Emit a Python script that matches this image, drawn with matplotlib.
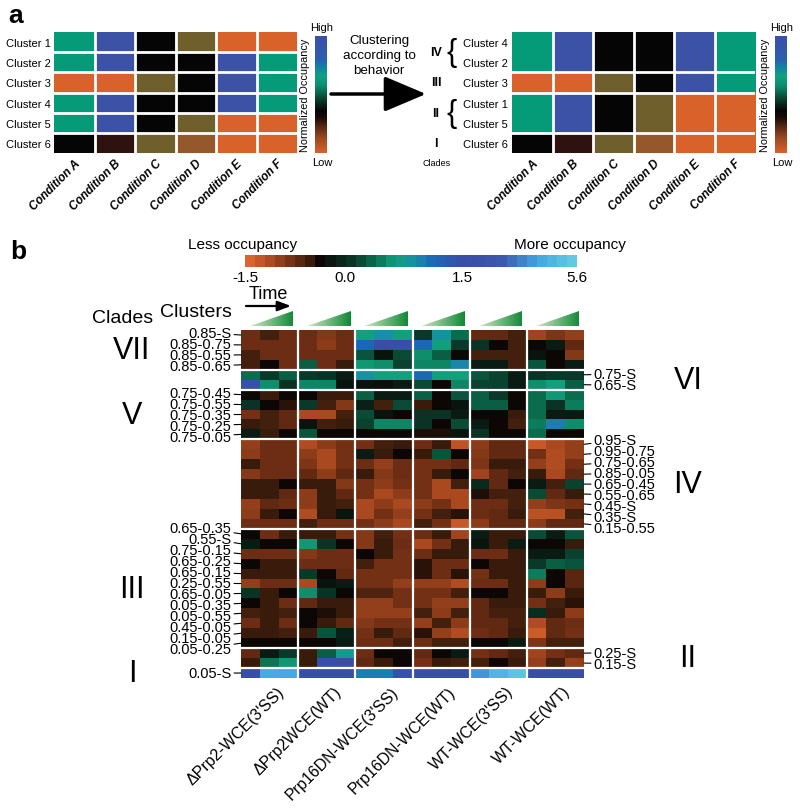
import numpy as np
import matplotlib
matplotlib.use('Agg')
import matplotlib.pyplot as plt
import matplotlib.colors as mcolors
import matplotlib.transforms as mtransforms
from matplotlib.patches import Polygon

plt.rcParams['font.family'] = ['Liberation Sans', 'DejaVu Sans']

# ---------------- panel a data ----------------
conditions_a = ['Condition A', 'Condition B', 'Condition C',
                'Condition D', 'Condition E', 'Condition F']
clusters_a = ['Cluster 1', 'Cluster 2', 'Cluster 3',
              'Cluster 4', 'Cluster 5', 'Cluster 6']
# level index per cell -> level_colors_a
levels_a = [[5, 6, 4, 2, 0, 0],
            [5, 6, 4, 4, 6, 5],
            [0, 0, 2, 4, 6, 5],
            [5, 6, 4, 4, 6, 5],
            [5, 6, 4, 2, 0, 0],
            [4, 3, 2, 1, 0, 0]]
level_colors_a = ['#d8622a', '#94582a', '#6e5f2c', '#2e1210',
                  '#050505', '#069b78', '#3b52a6']
order_a = [3, 1, 2, 0, 4, 5]          # cluster 4, 2, 3, 1, 5, 6
clades_a = ['IV', 'III', 'II', 'I']
clade_sizes_a = [2, 1, 2, 1]

# ---------------- panel b data ----------------
samples_b = ['\u0394Prp2-WCE(3\'SS)', '\u0394Prp2WCE(WT)', 'Prp16DN-WCE(3\'SS)',
             'Prp16DN-WCE(WT)', 'WT-WCE(3\'SS)', 'WT-WCE(WT)']
cbar_ticks = [-1.5, 0.0, 1.5, 5.6]
cbar_pos = [0.0, 0.3, 0.655, 1.0]

VII_labels = ['0.85-S', '0.85-0.75', '0.85-0.55', '0.85-0.65']
VII = [[-0.8, -0.6, -0.8, -0.8, -0.95, -0.8, 0.65, 0.9, 0.65, 0.1, 0.85, 0.35, -0.75, -0.75, -0.6, -1.1, -0.9, -1.05],
       [-0.8, -0.8, -0.8, -0.8, -1.0, -0.8, 1.15, 1.6, 1.6, 1.15, 0.65, 0.1, 0.05, -0.4, -0.6, -0.4, -0.2, -0.75],
       [-0.6, -0.8, -0.8, -0.8, -0.8, -0.8, 0.25, -0.25, 0.2, 0.55, 0.3, -0.4, -0.6, -0.6, -0.6, -0.25, -0.4, -0.95],
       [-0.6, -0.4, -0.8, 0.3, -0.8, -0.55, 0.6, 0.55, 0.15, 0.5, 0.5, 0.95, -0.2, -0.2, -0.6, 0.25, -0.4, -0.2]]

VI_labels = ['0.75-S', '0.65-S']
VI = [[0.35, 0.1, 0.3, 0.1, 0.05, -0.2, 0.85, 0.65, 0.65, 1.15, 0.65, 0.65, 0.25, 0.15, -0.2, 0.05, 0.1, 0.1],
      [1.5, 0.55, 0.05, 0.5, 0.5, -0.25, -0.25, -0.3, -0.2, 0.2, -0.4, 0.5, 0.15, 0.15, -0.2, 0.55, 0.65, 0.3]]

V_labels = ['0.75-0.45', '0.75-0.55', '0.75-0.35', '0.75-0.25', '0.75-0.05']
V = [[-0.4, -0.55, -0.4, -0.4, -0.55, -0.55, 0.3, -0.2, -0.2, 0.3, -0.4, 0.25, 0.3, 0.1, -0.4, 0.35, 0.6, 0.35],
     [0.05, -0.4, -0.5, 0.1, -0.6, -0.95, -0.15, -0.6, 0.2, -0.55, -0.4, -0.25, 0.3, 0.3, -0.4, 0.35, 0.05, 0.45],
     [-0.85, -0.6, -0.75, -1.15, -1.15, -0.6, 0.2, -0.25, -0.4, 0.05, 0.05, -0.2, -0.4, -0.4, -0.55, 0.35, -0.2, -0.2],
     [-0.55, -0.6, -0.75, -0.25, -0.6, -0.55, 0.15, 0.5, 0.5, 0.05, -0.4, 0.2, -0.2, -0.4, -0.6, 0.45, 1.0, 0.55],
     [-0.2, -0.55, -0.4, 0.25, -0.4, -0.4, -0.4, -0.4, -0.4, -0.45, -0.45, -0.25, 0.05, -0.4, -0.4, 0.35, -0.4, -0.4]]

IV_labels = ['0.95-S', '0.95-0.75', '0.75-0.65', '0.85-0.05', '0.65-0.45',
             '0.55-0.65', '0.45-S', '0.35-S', '0.15-0.55']
IV = [[-1.05, -0.8, -0.8, -1.2, -1.0, -0.85, -0.85, -0.6, -0.55, -0.8, -0.55, -1.3, -1.0, -0.75, -0.75, -1.35, -1.15, -1.05],
      [-1.0, -0.8, -0.8, -1.0, -1.15, -0.85, -0.2, -0.55, -0.4, -0.55, 0.25, -0.4, -0.95, -0.75, -0.75, -0.85, -1.2, -1.05],
      [-0.55, -0.8, -0.8, -0.9, -1.15, -0.85, -0.8, -1.05, -0.8, -0.85, -0.85, -0.75, -0.9, -0.55, -0.55, -1.05, -1.2, -0.85],
      [-0.95, -0.8, -0.8, -0.75, -1.0, -0.75, -0.55, -0.95, -0.8, -0.85, -0.55, -0.4, -1.1, -0.75, -0.6, -0.55, -1.15, -0.75],
      [-0.55, -0.55, -0.4, -0.55, -0.55, -0.95, -0.85, -1.0, -0.85, -0.85, -1.15, -0.6, -0.05, -0.75, -0.4, -0.2, -0.6, 0.15],
      [-0.55, -0.55, -0.75, -1.0, -0.55, -0.75, -0.85, -1.15, -1.0, -0.85, -1.15, -1.15, -0.45, -0.6, -0.6, 0.2, -0.75, -0.55],
      [-1.05, -0.75, -0.8, -1.0, -0.55, -0.6, -1.15, -1.0, -1.15, -1.0, -0.85, -1.15, -0.8, -0.8, -0.6, -1.05, -0.9, -0.85],
      [-1.0, -0.55, -0.4, -1.2, -0.55, -0.25, -1.15, -0.85, -1.05, -0.85, -0.6, -0.5, -0.8, -0.75, -0.55, -1.25, -1.25, -0.6],
      [-0.8, -0.8, -0.8, -0.6, -0.8, -0.8, -0.85, -1.0, -1.15, -0.6, -0.85, -1.35, -1.0, -0.75, -0.75, -1.0, -0.75, -0.75]]

III_labels = ['0.65-0.35', '0.55-S', '0.75-0.15', '0.65-0.25', '0.65-0.15', '0.25-0.55',
              '0.65-0.05', '0.05-0.35', '0.05-0.55', '0.45-0.05', '0.15-0.05', '0.05-0.25']
III = [[-0.4, -0.8, -0.55, -0.55, -0.55, -0.85, -0.95, -0.6, -0.85, -0.8, -0.55, -1.1, -0.2, -0.55, -0.55, 0.2, -0.2, 0.25],
       [-0.2, -0.4, -0.4, 0.6, 0.05, -0.4, -0.95, -0.55, -0.8, -1.15, -0.85, -0.55, -0.25, -0.55, -0.2, -0.4, -0.4, -0.55],
       [-0.8, -0.8, -0.8, -0.95, -0.8, -0.8, -0.4, -0.55, -0.85, -0.8, -0.55, -0.55, -0.8, -0.8, -0.55, -0.2, -0.2, 0.15],
       [-0.4, -0.55, -0.55, -0.8, -0.8, -0.8, -0.6, -0.85, -0.85, -0.5, -0.8, -0.8, -0.4, -0.55, -0.55, 0.1, 0.3, 0.25],
       [-0.55, -0.55, -0.55, 0.1, -0.4, -0.75, -0.85, -0.85, -0.85, -0.5, -0.8, -0.5, -0.85, -0.55, -0.55, 0.45, -0.4, -0.7],
       [-1.05, -0.8, -0.8, -1.15, -0.25, -0.2, -0.85, -0.85, -1.05, -1.05, -1.05, -1.2, -0.8, -0.8, -0.55, -1.0, -0.4, -0.7],
       [0.05, -0.55, -0.4, 0.55, 0.05, -0.4, -0.65, -0.65, -0.85, -0.85, -0.85, -0.6, -0.4, -0.4, -0.55, -0.55, -1.0, -0.55],
       [-0.4, -0.55, -0.8, -0.75, -0.55, -0.55, -1.05, -1.05, -0.85, -0.85, -1.05, -1.05, -0.75, -0.55, -0.55, -0.85, -0.6, -0.5],
       [-0.6, -0.55, -0.6, -0.4, -0.45, -0.55, -1.05, -1.05, -1.05, -0.6, -1.0, -0.6, -0.75, -0.6, -0.6, 0.0, -0.55, -1.0],
       [-0.8, -0.55, -0.8, -0.4, -0.55, -0.75, -0.95, -0.85, -0.85, -1.05, -0.6, -1.0, -0.75, -0.75, -0.6, -1.2, -0.75, -0.8],
       [-0.55, -0.55, -0.6, -0.55, 0.25, -0.15, -0.85, -0.55, -0.75, -0.5, -1.05, -1.2, -0.8, -0.75, -0.55, -1.4, -0.75, -0.85],
       [-0.4, -0.4, -0.4, -0.4, -0.4, -0.2, -0.8, -0.8, -0.6, -0.8, -0.6, -0.6, -0.4, -0.4, -0.2, -0.9, -0.6, -0.6]]

II_labels = ['0.25-S', '0.15-S']
II = [[-0.75, -0.2, 0.1, -0.55, 0.3, 0.75, -0.8, -0.4, -0.4, -0.75, -0.4, -0.2, -0.85, -0.75, -0.6, -1.1, -0.85, -0.75],
      [-0.55, 0.4, 0.6, -0.55, 1.6, 1.6, -0.75, -0.55, -0.4, -0.85, -0.55, -0.6, -0.6, -0.4, -0.55, -1.05, -0.6, -1.05]]

I_labels = ['0.05-S']
I = [[1.6, 4.5, 4.4, 1.6, 1.6, 1.6, 1.0, 1.0, 1.5, 1.6, 1.6, 1.6, 4.1, 4.9, 5.4, 1.6, 1.6, 1.6]]

# clade name, side of labels, labels, values (top to bottom)
clades_b = [('VII', 'L', VII_labels, VII), ('VI', 'R', VI_labels, VI),
            ('V', 'L', V_labels, V), ('IV', 'R', IV_labels, IV),
            ('III', 'L', III_labels, III), ('II', 'R', II_labels, II),
            ('I', 'L', I_labels, I)]

# ---------------- colours ----------------
occ_vals = [-1.5, -1.2, -1.0, -0.8, -0.6, -0.5, -0.4, -0.2, 0.1, 0.35, 0.65,
            0.9, 1.15, 1.6, 3.0, 4.4, 5.6]
occ_cols = ['#d9652c', '#b04c22', '#8c3c1a', '#6a2c14', '#44200e', '#2a140a',
            '#0c0605', '#0a1c14', '#0b3a2a', '#0a6a4c', '#12a07c', '#1890a8',
            '#1a68b8', '#3a4ea8', '#3c56ae', '#45a8e0', '#62c8e4']


def fwd(v):
    return np.interp(v, cbar_ticks, cbar_pos)


def inv(p):
    return np.interp(p, cbar_pos, cbar_ticks)


cmap_b = mcolors.LinearSegmentedColormap.from_list(
    'occ', list(zip(fwd(np.array(occ_vals)), occ_cols)))
norm_b = mcolors.FuncNorm((fwd, inv), vmin=-1.5, vmax=5.6)
cmap_bar = mcolors.ListedColormap(cmap_b(np.linspace(0, 1, 33)))

cmap_a = mcolors.ListedColormap(level_colors_a)
cmap_abar = mcolors.LinearSegmentedColormap.from_list('abar', [
    (0.0, '#d8622a'), (0.12, '#a04a22'), (0.22, '#5a2a14'), (0.3, '#1a0c08'),
    (0.36, '#060606'), (0.45, '#0a3a28'), (0.58, '#0a9070'), (0.66, '#10a080'),
    (0.74, '#1080a8'), (0.8, '#2a60b0'), (1.0, '#3b50a8')])
cmap_tri = mcolors.LinearSegmentedColormap.from_list('tri', ['#cfe8c6', '#148838'])

W, H = 800, 812


def rect(x0, y0, x1, y1):
    return [x0 / W, 1 - y1 / H, (x1 - x0) / W, (y1 - y0) / H]


fig = plt.figure(figsize=(8, 8.12), dpi=100)
bg = fig.add_axes([0, 0, 1, 1])
bg.set_xlim(0, W)
bg.set_ylim(H, 0)
bg.axis('off')

# ================= panel a =================
bg.text(8, 23, 'a', fontsize=19, fontweight='bold', va='baseline')
levels = np.array(levels_a)


def small_heatmap(ax, data, ylabels, hlines):
    ax.imshow(data, cmap=cmap_a, vmin=-0.5, vmax=6.5, aspect='auto',
              interpolation='nearest')
    for k in range(5):
        ax.axvline(k + 0.5, color='white', lw=2)
    for k in hlines:
        ax.axhline(k + 0.5, color='white', lw=2)
    for s in ax.spines.values():
        s.set_visible(False)
    ax.tick_params(length=0)
    ax.set_xticks(range(6))
    ax.set_xticklabels(conditions_a, rotation=45, ha='right',
                       rotation_mode='anchor', fontsize=8.5,
                       fontweight='bold', fontstyle='italic')
    ax.set_yticks(range(6))
    ax.set_yticklabels(ylabels, fontsize=8)


ax_al = fig.add_axes(rect(54, 33, 297, 154))
small_heatmap(ax_al, levels, clusters_a, range(5))
ax_al.tick_params(axis='y', pad=2)
ax_al.tick_params(axis='x', pad=3)

ax_ar = fig.add_axes(rect(512, 33, 755, 154))
bounds = np.cumsum(clade_sizes_a)[:-1] - 1
small_heatmap(ax_ar, levels[order_a], [clusters_a[i] for i in order_a], bounds)
ax_ar.tick_params(axis='x', pad=3)
ax_ar.tick_params(axis='y', pad=35)
for t in ax_ar.get_yticklabels():
    t.set_horizontalalignment('left')

trans_a = mtransforms.blended_transform_factory(fig.transFigure, ax_ar.transData)
start = -0.5
for name, n in zip(clades_a, clade_sizes_a):
    yc = start + n / 2
    ax_ar.text(436 / W, yc, name, transform=trans_a, ha='center', va='center',
               fontsize=9, fontweight='bold')
    if n > 1:
        ax_ar.text(452 / W, yc, '{', transform=trans_a, ha='center',
                   va='center', fontsize=22, fontweight='light')
    start += n
bg.text(437, 163, 'Clades', fontsize=6.5, ha='center', va='center')

for x0, xl in [(315, 305), (775, 765)]:
    cax = fig.add_axes(rect(x0, 37, x0 + 12, 154))
    cax.imshow(np.linspace(0, 1, 200)[:, None], cmap=cmap_abar, origin='lower',
               aspect='auto')
    cax.axis('off')
    bg.text(x0 + 7, 28, 'High', fontsize=8, ha='center', va='center')
    bg.text(x0 + 7, 163, 'Low', fontsize=8, ha='center', va='center')
    bg.text(xl, 95, 'Normalized Occupancy', fontsize=7.8, rotation=90,
            ha='center', va='center')

bg.text(379, 56, 'Clustering\naccording to\nbehavior', fontsize=9.6,
        ha='center', va='center', linespacing=1.3)
bg.annotate('', xy=(426, 95), xytext=(331, 95),
            arrowprops=dict(arrowstyle='-|>,head_length=1.3,head_width=0.55',
                            lw=2.5, color='black', shrinkA=0, shrinkB=0,
                            mutation_scale=20))

# ================= panel b =================
bg.text(10, 252, 'b', fontsize=19, fontweight='bold', va='center')
bg.text(243, 245, 'Less occupancy', fontsize=11, ha='center', va='center')
bg.text(570, 245, 'More occupancy', fontsize=11, ha='center', va='center')

cb = fig.add_axes(rect(245, 256, 577, 268))
cb.imshow(np.linspace(0, 1, 33)[None, :], cmap=cmap_bar, aspect='auto',
          extent=(0, 1, 0, 1), interpolation='nearest')
cb.set_xticks(fwd(np.array(cbar_ticks)))
cb.set_xticklabels([f'{t:.1f}' for t in cbar_ticks], fontsize=11)
cb.set_yticks([])
cb.tick_params(length=0, pad=2)
for s in cb.spines.values():
    s.set_visible(False)

bg.text(268, 295, 'Time', fontsize=13, ha='center', va='center')
bg.annotate('', xy=(291, 307), xytext=(246, 307),
            arrowprops=dict(arrowstyle='-|>,head_length=0.8,head_width=0.3',
                            lw=1.6, color='black', shrinkA=0, shrinkB=0,
                            mutation_scale=10))
bg.text(196, 313, 'Clusters', fontsize=14, ha='center', va='center')
bg.text(123, 319, 'Clades', fontsize=14, ha='center', va='center')

values = np.vstack([np.array(m) for _, _, _, m in clades_b])
n_rows = values.shape[0]
ax = fig.add_axes(rect(241, 331, 584, 679))
ax.imshow(values, cmap=cmap_b, norm=norm_b, aspect='auto',
          interpolation='nearest', extent=(0, 18, n_rows, 0))
for x in range(3, 18, 3):
    ax.axvline(x, color='white', lw=1.6)
sizes = [len(lab) for _, _, lab, _ in clades_b]
for y in np.cumsum(sizes)[:-1]:
    ax.axhline(y, color='white', lw=1.6)
for s in ax.spines.values():
    s.set_visible(False)
ax.set_yticks([])
ax.set_xticks(np.arange(6) * 3 + 1.5)
ax.set_xticklabels(samples_b, rotation=45, ha='right', rotation_mode='anchor',
                   fontsize=11.5)
ax.tick_params(length=0, pad=4)
for t in ax.get_xticklabels():
    t.set_transform(t.get_transform() +
                    mtransforms.ScaledTranslation(0.07, 0, fig.dpi_scale_trans))

row_px = (679 - 331) / n_rows
lab_px = 11.0
trans_b = mtransforms.blended_transform_factory(fig.transFigure, ax.transData)
start = 0
for name, side, labels, mat in clades_b:
    n = len(labels)
    center = start + n / 2
    for k, lab in enumerate(labels):
        y_row = start + k + 0.5
        y_lab = center + (k - (n - 1) / 2) * lab_px / row_px
        dy = -(y_lab - y_row) * row_px * 0.72
        if side == 'L':
            ax.annotate(lab, xy=(0, y_row), xytext=(-7, dy),
                        textcoords='offset points', ha='right', va='center',
                        fontsize=10.5, annotation_clip=False,
                        arrowprops=dict(arrowstyle='-', lw=0.8, color='black',
                                        shrinkA=0, shrinkB=0))
        else:
            ax.annotate(lab, xy=(18, y_row), xytext=(7, dy),
                        textcoords='offset points', ha='left', va='center',
                        fontsize=10.5, annotation_clip=False,
                        arrowprops=dict(arrowstyle='-', lw=0.8, color='black',
                                        shrinkA=0, shrinkB=0))
    xn = 132 if side == 'L' else 688
    ax.text(xn / W, center, name, transform=trans_b, ha='center', va='center',
            fontsize=22)
    start += n

# time triangles above each sample block
tri = fig.add_axes(rect(241, 312, 584, 327))
for b in range(6):
    x0, x1 = 3 * b + 0.47, 3 * b + 2.75
    poly = Polygon([[x0, 0], [x1, 0], [x1, 1]], closed=True,
                   facecolor='none', edgecolor='none')
    tri.add_patch(poly)
    im = tri.imshow(np.linspace(0, 1, 50)[None, :], cmap=cmap_tri,
                    extent=(x0, x1, 0, 1), aspect='auto')
    im.set_clip_path(poly)
tri.set_xlim(0, 18)
tri.set_ylim(0, 1)
tri.axis('off')

fig.savefig('out.png', dpi=100)
